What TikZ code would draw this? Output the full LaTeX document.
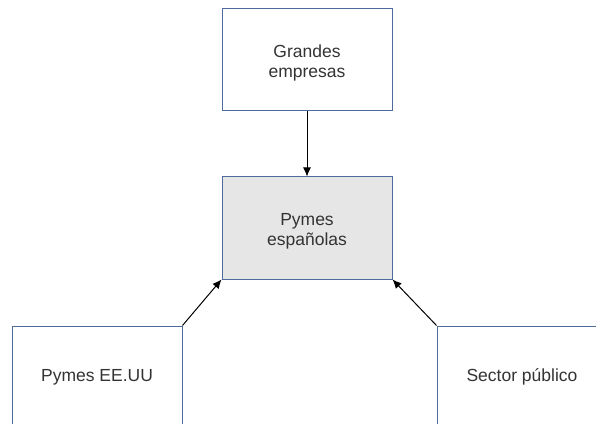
\documentclass[tikz,border=0pt]{standalone}
\usepackage{fontspec}
\setmainfont{Liberation Sans}
\usetikzlibrary{arrows.meta}
\definecolor{boxline}{HTML}{4F6B9A}
\definecolor{boxfill}{HTML}{E6E6E6}
\definecolor{txt}{HTML}{333333}
\tikzset{
  box/.style={draw=boxline, line width=1pt, minimum width=170pt, minimum height=102pt,
    inner sep=0pt, align=center, text=txt, font=\fontsize{17.5}{21}\selectfont},
  conn/.style={draw=black, line width=1pt, -{Latex[length=9pt,width=8pt]}}
}
\newcommand{\lowtext}[1]{\raisebox{-3.5pt}[\height][\depth]{\begin{tabular}{@{}c@{}}#1\end{tabular}}}
\begin{document}
\begin{tikzpicture}[x=1pt,y=1pt]
\clip (0,0) rectangle (596,423);
\fill[white] (0,0) rectangle (596,423);
\node[box, fill=white] (top) at (307,363) {\lowtext{Grandes\\[-1.5pt]empresas}};
\node[box, fill=boxfill] (mid) at (307,195) {\lowtext{Pymes\\[-1.5pt]españolas}};
\node[box, fill=white] (left) at (97,46) {Pymes EE.UU};
\node[box, fill=white] (right) at (522,46) {Sector público};
\draw[conn] (top.south) -- (mid.north);
\draw[conn] (left.north east) -- (mid.south west);
\draw[conn] (right.north west) -- (mid.south east);
\end{tikzpicture}
\end{document}
